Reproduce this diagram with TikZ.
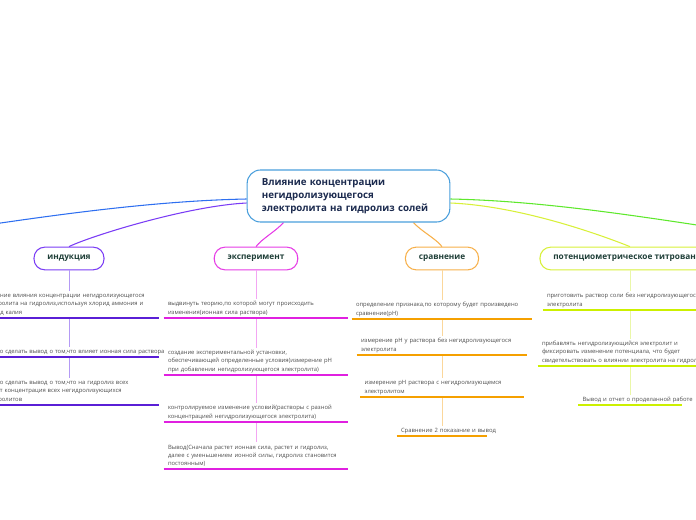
\documentclass[tikz,border=0pt]{standalone}
\usepackage{fontspec}
\setmainfont{Open Sans}
\usetikzlibrary{backgrounds,calc}

\definecolor{rootblue}{HTML}{4A9FDC}
\definecolor{rootink}{HTML}{1B2A4E}
\definecolor{topicink}{HTML}{1F3F38}
\definecolor{leafink}{HTML}{4D4D4D}
\definecolor{blueline}{HTML}{2E6FF0}
\definecolor{greenline}{HTML}{5EE82C}
\definecolor{indpurple}{HTML}{7A3CF5}
\definecolor{inddark}{HTML}{5A1FD6}
\definecolor{indlight}{HTML}{B49AF5}
\definecolor{expmag}{HTML}{E63CE6}
\definecolor{expdark}{HTML}{E020E0}
\definecolor{explight}{HTML}{F3A6F3}
\definecolor{cmporange}{HTML}{F7B04A}
\definecolor{cmpdark}{HTML}{F5A000}
\definecolor{cmplight}{HTML}{FBD79B}
\definecolor{potyellow}{HTML}{D8F03A}
\definecolor{potdark}{HTML}{CCF000}
\definecolor{potlight}{HTML}{EAF7A8}

\tikzset{
  rootnode/.style={draw=rootblue, line width=0.8pt, fill=white, rounded corners=10pt,
    text width=130pt, inner xsep=11pt, minimum height=39pt, align=left, text=rootink,
    font=\bfseries\fontsize{7.3}{9.8}\selectfont},
  topicnode/.style={draw=#1, line width=0.8pt, fill=white, rounded corners=8pt,
    minimum height=17pt, inner xsep=10pt, text=topicink,
    font=\bfseries\fontsize{6.2}{7.5}\selectfont},
  leaf/.style={anchor=south, text width=#1, align=left, inner xsep=3pt, inner ysep=1.5pt,
    text=leafink, font=\fontsize{4.4}{6.3}\selectfont},
  branch/.style={line width=0.8pt},
  stem/.style={line width=0.6pt},
  rule/.style={line width=1.1pt}
}

\begin{document}
\begin{tikzpicture}[x=0.75pt,y=-0.75pt]
\useasboundingbox (0,0) rectangle (696,520);
\clip (0,0) rectangle (696,520);

\node[rootnode] (root) at (348.5,196) {Влияние концентрации\\негидролизующегося\\электролита на гидролиз солей};
\node[topicnode=indpurple] (ind) at (69,258.5) {индукция};
\node[topicnode=expmag] (exp) at (256,258.5) {эксперимент};
\node[topicnode=cmporange] (cmp) at (442,258.5) {сравнение};
\node[topicnode=potyellow] (pot) at (630,258.5) {потенциометрическое титрование};
\coordinate (westend) at (-60,232);
\coordinate (eastend) at (756,234);

\node[leaf=129pt] (ind1) at (69,318) {Изучение влияния концентрации негидролизующегося\\электролита на гидролиз,используя хлорид аммония и\\хлорид калия};
\node[leaf=129pt] (ind2) at (69,357) {\mbox{Можно сделать вывод о том,что влияет ионная сила раствора}};
\node[leaf=129pt] (ind3) at (69,405) {Можно сделать вывод о том,что на гидролиз всех\\влияет концентрация всех негидролизующихся\\электролитов};

\node[leaf=132pt] (exp1) at (256,318) {выдвинуть теорию,по которой могут происходить\\изменения(ионная сила раствора)};
\node[leaf=132pt] (exp2) at (256,375) {создание экспериментальной установки,\\обеспечивающей определенные условия(измерение pH\\при добавлении негидролизующегося электролита)};
\node[leaf=132pt] (exp3) at (256,422) {контролируемое изменение условий(растворы с разной\\концентрацией негидролизующегося электролита)};
\node[leaf=132pt] (exp4) at (256,469) {Вывод(Сначала растет ионная сила, растет и гидролиз,\\далее с уменьшением ионной силы, гидролиз становится\\постоянным)};

\node[leaf=129pt] (cmp1) at (442,319) {определение признака,по которому будет произведено\\сравнение(pH)};
\node[leaf=121.5pt] (cmp2) at (442,355) {измерение pH у раствора без негидролизующегося\\электролита};
\node[leaf=116pt] (cmp3) at (442,397) {измерение pH раствора с негидролизующемся\\электролитом};
\node[leaf=61.5pt] (cmp4) at (442,436) {\mbox{Сравнение 2 показание и вывод}};

\node[leaf=124.5pt] (pot1) at (630,310) {приготовить раствор соли без негидролизующегося\\электролита};
\node[leaf=132pt] (pot2) at (630,366) {прибавлять негидролизующийся электролит и\\фиксировать изменение потенциала, что будет\\свидетельствовать о влиянии электролита на гидролиз};
\node[leaf=71pt] (pot3) at (630,405) {\mbox{Вывод и отчет о проделанной работе}};

\begin{scope}[on background layer]
\draw[branch,blueline] ($(root.west)+(0,3)$) .. controls +(-100,2) and +(100,-15) .. (westend);
\draw[branch,indpurple] ($(root.west)+(0,7)$) .. controls +(-60,3) and +(20,-10) .. (ind.north);
\draw[branch,expmag] ($(root.south)+(-65,0)$) .. controls +(-8,9) and +(6,-8) .. (exp.north);
\draw[branch,cmporange] ($(root.south)+(65,0)$) .. controls +(8,9) and +(-6,-8) .. (cmp.north);
\draw[branch,potyellow] ($(root.east)+(0,7)$) .. controls +(70,3) and +(-30,-12) .. (pot.north);
\draw[branch,greenline] ($(root.east)+(0,3)$) .. controls +(100,2) and +(-100,-15) .. (eastend);
\end{scope}

\draw[stem,indlight] (ind.south) -- (ind1.north) (ind1.south) -- (ind2.north) (ind2.south) -- (ind3.north);
\draw[stem,explight] (exp.south) -- (exp1.north) (exp1.south) -- (exp2.north) (exp2.south) -- (exp3.north) (exp3.south) -- (exp4.north);
\draw[stem,cmplight] (cmp.south) -- (cmp1.north) (cmp1.south) -- (cmp2.north) (cmp2.south) -- (cmp3.north) (cmp3.south) -- (cmp4.north);
\draw[stem,potlight] (pot.south) -- (pot1.north) (pot1.south) -- (pot2.north) (pot2.south) -- (pot3.north);

\foreach \n in {ind1,ind2,ind3} \draw[rule,inddark] (\n.south west) -- (\n.south east);
\foreach \n in {exp1,exp2,exp3,exp4} \draw[rule,expdark] (\n.south west) -- (\n.south east);
\foreach \n in {cmp1,cmp2,cmp3,cmp4} \draw[rule,cmpdark] (\n.south west) -- (\n.south east);
\foreach \n in {pot1,pot2,pot3} \draw[rule,potdark] (\n.south west) -- (\n.south east);
\end{tikzpicture}
\end{document}
